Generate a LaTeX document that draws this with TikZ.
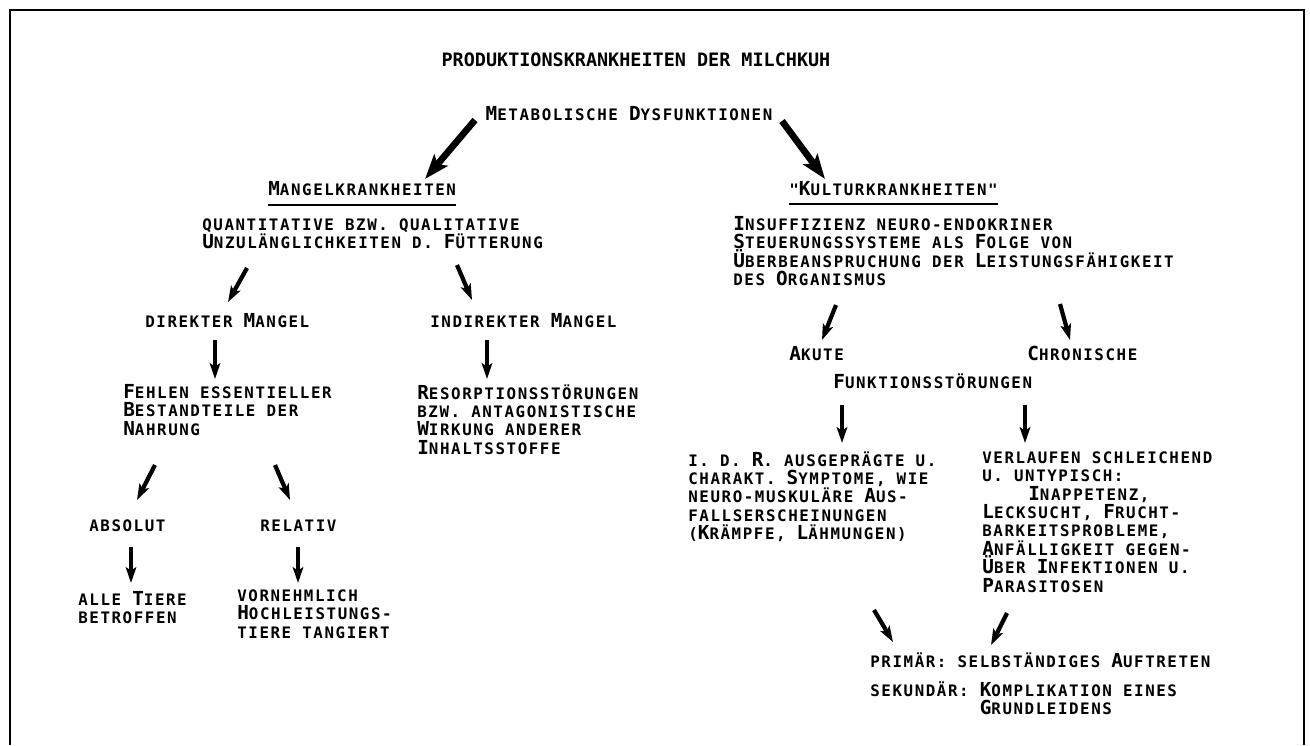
\documentclass[tikz,border=0pt]{standalone}
\usepackage{fontspec}
\usetikzlibrary{arrows.meta,calc}
\newfontfamily\plotfont{DejaVu Sans Mono}[LetterSpace=10]
\newfontfamily\titlefont{DejaVu Sans Mono}
\newcommand\K[1]{{\fontsize{11}{10.5}\selectfont#1}}
\begin{document}
\begin{tikzpicture}[x=0.02cm,y=-0.02cm,>=Stealth,
  every node/.style={inner sep=0pt,font=\plotfont\bfseries\fontsize{9}{10.5}\selectfont,execute at begin node={\rule{0pt}{8.6pt}}},
  txt/.style={anchor=north west,align=left},
  one/.style={anchor=base west},
  arr/.style={line width=2.4pt,-{Stealth[length=9pt,width=6pt,inset=2pt]}},
  bigarr/.style={line width=3.8pt,-{Stealth[length=14pt,width=10pt,inset=3pt]}},
  uline/.style={line width=1pt}]
\useasboundingbox (0,0) rectangle (1310,745);
\draw[line width=1.6pt] (10,745) -- (10,10) -- (1304,10) -- (1304,745);
\node[anchor=base,font=\titlefont\bfseries\fontsize{10.5}{10.5}\selectfont] (title) at (636,66) {PRODUKTIONSKRANKHEITEN DER MILCHKUH};
\node[anchor=base] (metab) at (629,120) {\K{M}ETABOLISCHE \K{D}YSFUNKTIONEN};
\node[one] (mangel) at (268,195) {\K{M}ANGELKRANKHEITEN};
\node[one] (kultur) at (789,195) {"\K{K}ULTURKRANKHEITEN"};
\node[txt] (quant) at (202,218) {QUANTITATIVE BZW. QUALITATIVE\\\K{U}NZULÄNGLICHKEITEN D. \K{F}ÜTTERUNG};
\node[txt] (insuff) at (733,216) {\K{I}NSUFFIZIENZ NEURO-ENDOKRINER\\\K{S}TEUERUNGSSYSTEME ALS \K{F}OLGE VON\\\K{Ü}BERBEANSPRUCHUNG DER \K{L}EISTUNGSFÄHIGKEIT\\DES \K{O}RGANISMUS};
\node[one] (direkt) at (145,327) {DIREKTER \K{M}ANGEL};
\node[one] (indirekt) at (430,327) {INDIREKTER \K{M}ANGEL};
\node[txt] (fehlen) at (123,384) {\K{F}EHLEN ESSENTIELLER\\\K{B}ESTANDTEILE DER\\\K{N}AHRUNG};
\node[txt] (resorp) at (417,384) {\K{R}ESORPTIONSSTÖRUNGEN\\BZW. ANTAGONISTISCHE\\\K{W}IRKUNG ANDERER\\\K{I}NHALTSSTOFFE};
\node[one] (absolut) at (89,531) {ABSOLUT};
\node[one] (relativ) at (260,531) {RELATIV};
\node[txt] (alle) at (78,591) {ALLE \K{T}IERE\\BETROFFEN};
\node[txt] (vornehm) at (237,589) {VORNEHMLICH\\\K{H}OCHLEISTUNGS-\\TIERE TANGIERT};
\node[one] (akute) at (789,360) {\K{A}KUTE};
\node[one] (chron) at (1027,360) {\K{C}HRONISCHE};
\node[one] (funkt) at (833,388) {\K{F}UNKTIONSSTÖRUNGEN};
\node[txt] (idr) at (688,451) {I. D. \K{R}. AUSGEPRÄGTE U.\\CHARAKT. \K{S}YMPTOME, WIE\\NEURO-MUSKULÄRE \K{A}US-\\FALLSERSCHEINUNGEN\\(\K{K}RÄMPFE, \K{L}ÄHMUNGEN)};
\node[txt] (verl) at (982,451) {VERLAUFEN SCHLEICHEND\\U. UNTYPISCH:\\\hspace*{0.92cm}\K{I}NAPPETENZ,\\\K{L}ECKSUCHT, \K{F}RUCHT-\\BARKEITSPROBLEME,\\\K{A}NFÄLLIGKEIT GEGEN-\\\K{Ü}BER \K{I}NFEKTIONEN U.\\\K{P}ARASITOSEN};
\node[one] (primaer) at (870,667) {PRIMÄR: SELBSTÄNDIGES \K{A}UFTRETEN};
\node[txt] (sekund) at (870,681) {SEKUNDÄR: \K{K}OMPLIKATION EINES\\\phantom{SEKUNDÄR: }\K{G}RUNDLEIDENS};
\draw[uline] ($(mangel.base west)+(0,10)$) -- ($(mangel.base east)+(0,10)$);
\draw[uline] ($(kultur.base west)+(0,9)$) -- ($(kultur.base east)+(0,9)$);
\draw[bigarr] ($(metab.base)+(-154,0)$) -- ($(mangel.base west)+(157,-16)$);
\draw[bigarr] ($(metab.base)+(153,1)$) -- ($(kultur.base west)+(36,-16)$);
\draw[arr] ($(quant.north west)+(45,50)$) -- ($(direkt.base west)+(83,-25)$);
\draw[arr] ($(quant.north west)+(255,47)$) -- ($(indirekt.base west)+(42,-27)$);
\draw[arr] ($(direkt.base west)+(70,13)$) -- ($(fehlen.north west)+(92,-5)$);
\draw[arr] ($(indirekt.base west)+(57,13)$) -- ($(resorp.north west)+(70,-5)$);
\draw[arr] ($(fehlen.north west)+(32,81)$) -- ($(absolut.base west)+(48,-31)$);
\draw[arr] ($(fehlen.north west)+(152,81)$) -- ($(relativ.base west)+(30,-31)$);
\draw[arr] ($(absolut.base west)+(42,16)$) -- ($(alle.north west)+(53,-8)$);
\draw[arr] ($(relativ.base west)+(38,16)$) -- ($(vornehm.north west)+(61,-6)$);
\draw[arr] ($(insuff.north west)+(103,89)$) -- ($(akute.base west)+(33,-20)$);
\draw[arr] ($(insuff.north west)+(327,88)$) -- ($(chron.base west)+(43,-20)$);
\draw[arr] ($(funkt.base west)+(9,17)$) -- ($(idr.north west)+(154,-8)$);
\draw[arr] ($(funkt.base west)+(192,17)$) -- ($(verl.north west)+(43,-8)$);
\draw[arr] ($(idr.north west)+(186,159)$) -- ($(primaer.base west)+(23,-25)$);
\draw[arr] ($(verl.north west)+(25,162)$) -- ($(primaer.base west)+(121,-22)$);
\end{tikzpicture}
\end{document}
